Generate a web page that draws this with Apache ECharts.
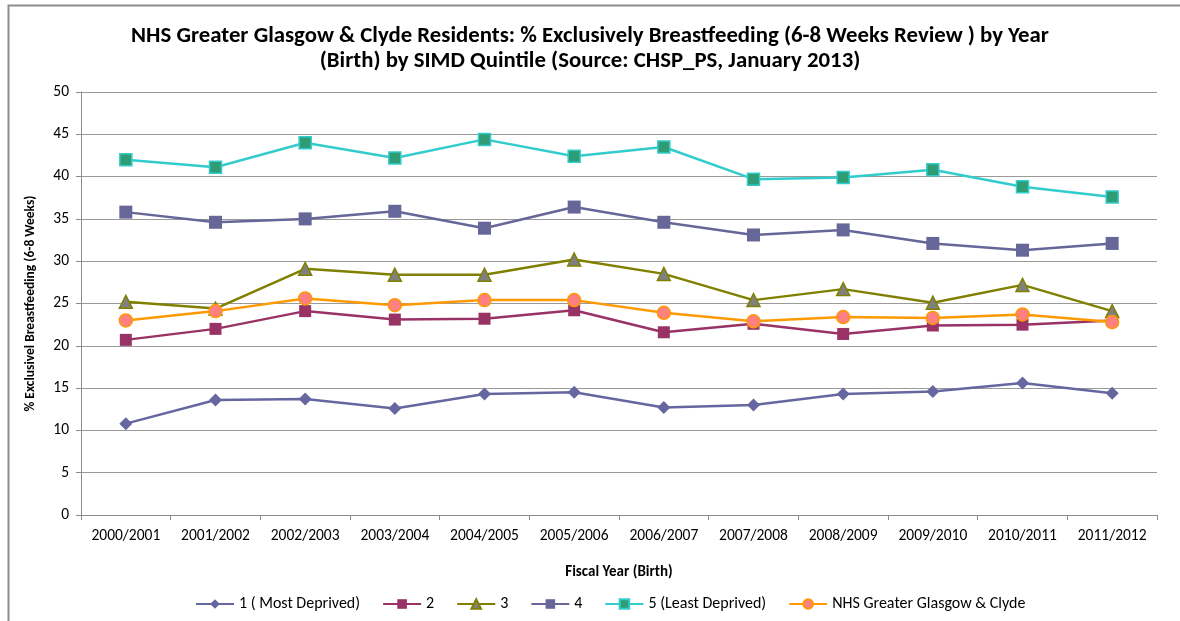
<!DOCTYPE html>
<html>
<head>
<meta charset="utf-8">
<script src="https://cdn.jsdelivr.net/npm/echarts@6/dist/echarts.min.js"></script>
<style>
html, body { margin: 0; padding: 0; background: #fff; }
#chart { width: 1180px; height: 621px; }
</style>
</head>
<body>
<div id="chart"></div>
<script>
var years = ['2000/2001','2001/2002','2002/2003','2003/2004','2004/2005','2005/2006','2006/2007','2007/2008','2008/2009','2009/2010','2010/2011','2011/2012'];
// SIMD quintiles
var q1 = [10.8, 13.6, 13.7, 12.6, 14.3, 14.5, 12.7, 13.0, 14.3, 14.6, 15.6, 14.4];
var q2 = [20.7, 22.0, 24.1, 23.1, 23.2, 24.2, 21.6, 22.6, 21.4, 22.4, 22.5, 23.0];
var q3 = [25.2, 24.4, 29.1, 28.4, 28.4, 30.2, 28.5, 25.4, 26.7, 25.1, 27.2, 24.1];
var q4 = [35.8, 34.6, 35.0, 35.9, 33.9, 36.4, 34.6, 33.1, 33.7, 32.1, 31.3, 32.1];
var q5 = [42.0, 41.1, 44.0, 42.2, 44.4, 42.4, 43.5, 39.7, 39.9, 40.8, 38.8, 37.6];
// board total
var nhs = [23.0, 24.1, 25.6, 24.8, 25.4, 25.4, 23.9, 22.9, 23.4, 23.3, 23.7, 22.8];

var font = 'Carlito, Lato, "Open Sans", sans-serif';
var myChart = echarts.init(document.getElementById('chart'));

function line(name, data, color, symbol, size, fill, border) {
    return {
        name: name,
        type: 'line',
        data: data,
        symbol: symbol,
        symbolSize: size,
        lineStyle: { color: color, width: 2.5 },
        itemStyle: { color: fill, borderColor: border || fill, borderWidth: border ? 1.5 : 0 },
        emphasis: { disabled: true },
        z: 3
    };
}

option = {
    animation: false,
    textStyle: { fontFamily: font },
    graphic: [{
        type: 'polyline',
        shape: { points: [[8.5, 630], [8.5, 5.5], [1190, 5.5]] },
        style: { stroke: '#8c8c8c', lineWidth: 2, fill: null }
    }],
    title: {
        text: 'NHS Greater Glasgow & Clyde Residents: % Exclusively Breastfeeding (6-8 Weeks Review ) by Year\n(Birth) by SIMD Quintile (Source: CHSP_PS, January 2013)',
        left: 'center',
        top: 19,
        textStyle: { fontFamily: font, fontSize: 22.8, fontWeight: 'bold', color: '#000', lineHeight: 25 }
    },
    legend: {
        bottom: 4,
        left: 190,
        itemWidth: 38,
        itemHeight: 12,
        itemGap: 22,
        textStyle: { fontFamily: font, fontSize: 16, color: '#000' },
        data: ['1 ( Most Deprived)', '2', '3', '4', '5 (Least Deprived)', 'NHS Greater Glasgow & Clyde']
    },
    grid: { left: 81, right: 23, top: 92, bottom: 106 },
    xAxis: {
        type: 'category',
        data: years,
        boundaryGap: true,
        name: 'Fiscal Year (Birth)',
        nameLocation: 'middle',
        nameGap: 50,
        nameTextStyle: { fontFamily: font, fontSize: 15, fontWeight: 'bold', color: '#000' },
        axisLine: { lineStyle: { color: '#8c8c8c', width: 1 } },
        axisTick: { show: true, length: 5, interval: 0, lineStyle: { color: '#8c8c8c' } },
        axisLabel: { fontFamily: font, fontSize: 15.5, color: '#000', margin: 13, interval: 0 }
    },
    yAxis: {
        type: 'value',
        min: 0,
        max: 50,
        interval: 5,
        name: '% Exclusivel Breastfeeding (6-8 Weeks)',
        nameLocation: 'middle',
        nameGap: 43,
        nameRotate: 90,
        nameTextStyle: { fontFamily: font, fontSize: 13.5, fontWeight: 'bold', color: '#000' },
        axisLine: { show: true, lineStyle: { color: '#8c8c8c', width: 1 } },
        axisTick: { show: true, length: 5, lineStyle: { color: '#8c8c8c' } },
        axisLabel: { fontFamily: font, fontSize: 15.5, color: '#000', margin: 12 },
        splitLine: { lineStyle: { color: '#9a9a9a', width: 1 } }
    },
    series: [
        line('1 ( Most Deprived)', q1, '#6666A0', 'diamond', 13, '#6666A0'),
        line('2', q2, '#993366', 'rect', 12, '#993366'),
        line('3', q3, '#808000', 'triangle', 13, '#808080', '#808000'),
        line('4', q4, '#666699', 'rect', 13, '#666699'),
        line('5 (Least Deprived)', q5, '#33CCCC', 'rect', 12, '#2E9C74', '#33CCCC'),
        line('NHS Greater Glasgow & Clyde', nhs, '#FF9900', 'circle', 13, '#FF8080', '#FF9900')
    ]
};
myChart.setOption(option, true);
</script>
</body>
</html>
